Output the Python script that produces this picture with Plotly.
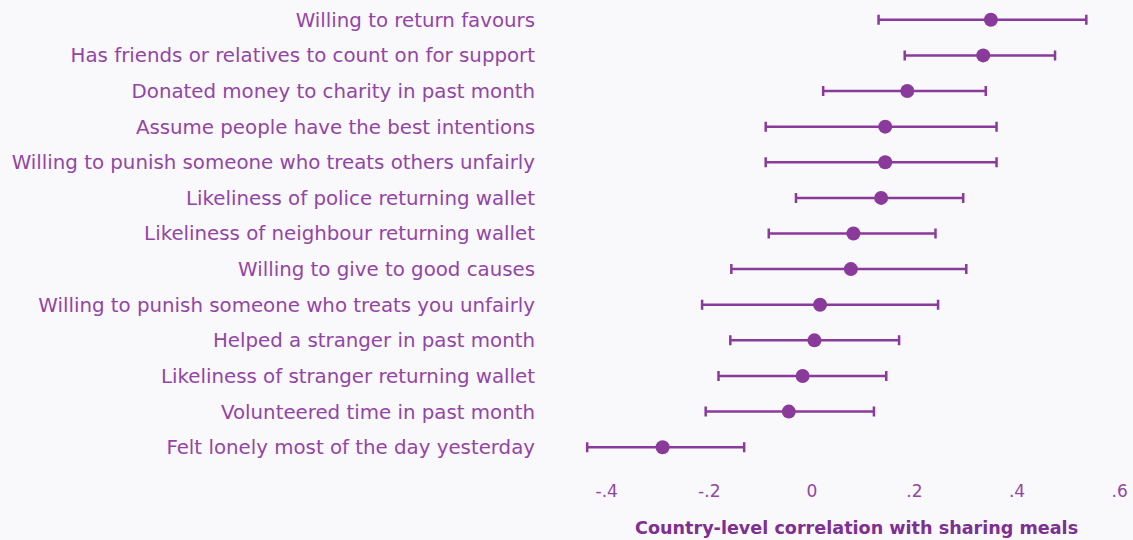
import plotly.graph_objects as go

labels = [
    "Willing to return favours",
    "Has friends or relatives to count on for support",
    "Donated money to charity in past month",
    "Assume people have the best intentions",
    "Willing to punish someone who treats others unfairly",
    "Likeliness of police returning wallet",
    "Likeliness of neighbour returning wallet",
    "Willing to give to good causes",
    "Willing to punish someone who treats you unfairly",
    "Helped a stranger in past month",
    "Likeliness of stranger returning wallet",
    "Volunteered time in past month",
    "Felt lonely most of the day yesterday",
]
estimate = [0.349, 0.334, 0.186, 0.143, 0.143, 0.135, 0.081, 0.076, 0.016, 0.005, -0.018, -0.045, -0.291]
lower = [0.130, 0.181, 0.022, -0.090, -0.090, -0.031, -0.084, -0.157, -0.214, -0.159, -0.182, -0.207, -0.438]
upper = [0.535, 0.474, 0.339, 0.360, 0.360, 0.295, 0.241, 0.301, 0.246, 0.170, 0.145, 0.121, -0.132]

tick_vals = [-0.4, -0.2, 0, 0.2, 0.4, 0.6]
tick_text = ["-.4", "-.2", "0", ".2", ".4", ".6"]
x_title = "Country-level correlation with sharing meals"

purple = "#8a3a9b"
label_col = "#9345a6"

fig = go.Figure(go.Scatter(
    x=estimate,
    y=labels,
    mode="markers",
    marker=dict(color=purple, size=14),
    error_x=dict(
        type="data",
        symmetric=False,
        array=[u - e for u, e in zip(upper, estimate)],
        arrayminus=[e - l for e, l in zip(estimate, lower)],
        color=purple,
        thickness=2.5,
        width=5,
    ),
    showlegend=False,
))

fig.update_layout(
    width=1133,
    height=540,
    margin=dict(l=560, r=0, t=2, b=75),
    paper_bgcolor="#f9f8fa",
    plot_bgcolor="#f9f8fa",
    font=dict(family="DejaVu Sans", color=label_col),
)
fig.add_annotation(
    text="<b>" + x_title + "</b>",
    xref="paper", yref="paper",
    x=0.5166, y=-0.136,
    xanchor="center", yanchor="middle",
    showarrow=False,
    font=dict(size=17.6, color="#7e2f92"),
)
fig.update_xaxes(
    range=[-0.491, 0.626],
    tickvals=tick_vals,
    ticktext=tick_text,
    showgrid=False,
    zeroline=False,
    showline=False,
    ticklabelstandoff=14,
    tickfont=dict(size=17, color=label_col),
)
fig.update_yaxes(
    categoryorder="array",
    categoryarray=labels[::-1],
    range=[-0.5, 12.5],
    showgrid=False,
    zeroline=False,
    showline=False,
    tickfont=dict(size=19.8, color=label_col),
    ticklabelstandoff=24,
)

fig.write_html("out.html", post_script="document.body.style.margin='0';",
               config={"displayModeBar": False})
